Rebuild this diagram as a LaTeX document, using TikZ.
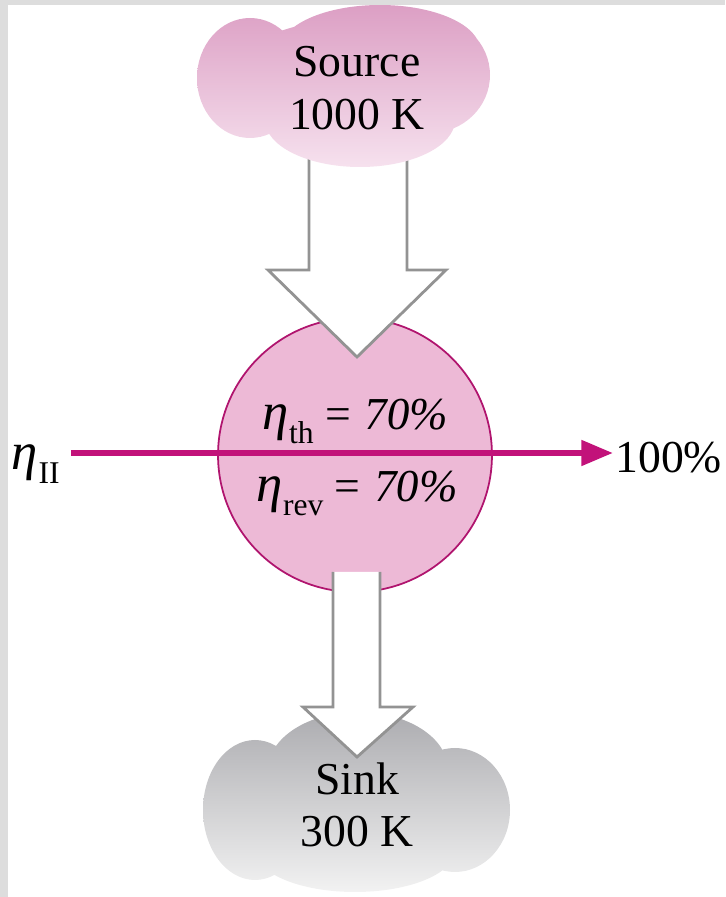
\documentclass[tikz,border=0pt]{standalone}
\usepackage{fontspec}
\setmainfont{Liberation Serif}
\newfontfamily\slantfont[FakeSlant=0.15]{Liberation Serif}
\usetikzlibrary{arrows.meta}
\definecolor{framegray}{HTML}{DDDDDD}
\definecolor{arrowgray}{HTML}{939393}
\definecolor{effmagenta}{HTML}{C2127A}
\definecolor{engineline}{HTML}{B0146E}
\definecolor{enginefill}{HTML}{EDB9D6}
\definecolor{srctop}{HTML}{DC9FC4}
\definecolor{srcbot}{HTML}{F6E1EE}
\definecolor{sinktop}{HTML}{ACACB0}
\definecolor{sinkbot}{HTML}{F2F2F2}
\newcommand{\etasub}[1]{{\fontsize{30}{30}\selectfont\textit{η}}\kern0.5pt\raisebox{-0.3em}{\fontsize{18}{18}\selectfont #1}}

\begin{document}
\begin{tikzpicture}[x=0.02cm, y=0.02cm, line width=0.7pt,
    bigtext/.style={font=\fontsize{26}{30}\selectfont, align=center},
    hollow/.style={draw=arrowgray, line width=1.6pt, line join=miter}]
  \useasboundingbox (0,0) rectangle (725,897);
  % Heat engine: pink disc
  \node[circle, draw=engineline, fill=enginefill, line width=1pt,
    minimum size=5.48cm, inner sep=0pt] (engine) at (355,442) {};
  % Q_H arrow, source to engine (hollow)
  \fill[white] (309,750) -- (309,627) -- (268,627) -- (357,540)
    -- (446,627) -- (407,627) -- (407,750) -- cycle;
  \draw[hollow] (309,750) -- (309,627) -- (268,627) -- (357,540)
    -- (446,627) -- (407,627) -- (407,750);
  % Source reservoir: cloud made of ellipses
  \shade[top color=srctop, bottom color=srcbot]
    (250,819) ellipse [x radius=53, y radius=60]
    (380,847) ellipse [x radius=100, y radius=45]
    (430,822) ellipse [x radius=60, y radius=58]
    (360,777) ellipse [x radius=95, y radius=47]
    (350,817) ellipse [x radius=120, y radius=60];
  \node[bigtext] (source) at (357,809) {Source\\1000 K};
  % Sink reservoir
  \shade[top color=sinktop, bottom color=sinkbot]
    (255,87) ellipse [x radius=52, y radius=70]
    (358,127) ellipse [x radius=90, y radius=58]
    (455,87) ellipse [x radius=55, y radius=62]
    (355,47) ellipse [x radius=100, y radius=42]
    (355,90) ellipse [x radius=130, y radius=60];
  \node[bigtext] (sink) at (357,92) {Sink\\300 K};
  % Q_L arrow, engine to sink (hollow)
  \fill[white] (333,325) -- (333,190) -- (303,190) -- (357,140)
    -- (413,190) -- (380,190) -- (380,325) -- cycle;
  \draw[hollow] (333,325) -- (333,190) -- (303,190) -- (357,140)
    -- (413,190) -- (380,190) -- (380,325);
  % Efficiencies inside the engine
  \node[bigtext, anchor=base] (etath) at (354,467)
    {\etasub{th} = {\slantfont 70\%}};
  \node[bigtext, anchor=base] (etarev) at (356,395)
    {\etasub{rev} = {\slantfont 70\%}};
  % Second-law efficiency scale
  \node[bigtext, anchor=base east, inner sep=1pt] (etaII) at (62,427) {\etasub{II}};
  \node[bigtext, anchor=base west, inner sep=1pt] (pct) at (613,424) {100\%};
  \draw[effmagenta, line width=3.4pt, shorten <=5pt,
    -{Triangle[length=18pt, width=14pt]}]
    (etaII.east |- 0,444) -- (pct.west |- 0,444);
  % Grey frame of the figure
  \fill[framegray] (0,0) rectangle (8,897);
  \fill[framegray] (0,892) rectangle (725,897);
\end{tikzpicture}
\end{document}
